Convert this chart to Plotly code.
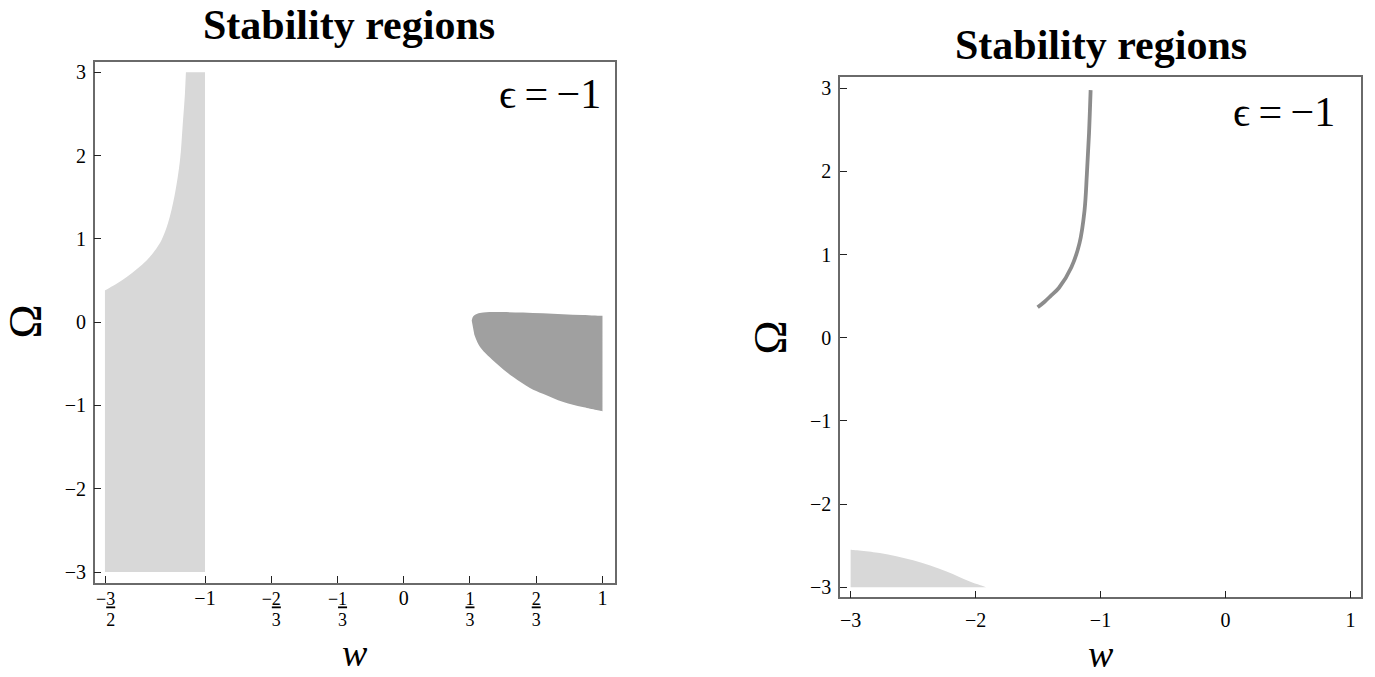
import plotly.graph_objects as go

# ---------------- data ----------------
# Left panel: light region; upper boundary curve (w, Omega), right edge at w=-1, bottom at Omega=-3
left_curve_w = [-1.5035, -1.445, -1.394, -1.341, -1.294, -1.255, -1.218, -1.186, -1.153, -1.126, -1.113, -1.101, -1.096]
left_curve_om = [0.38, 0.46, 0.54, 0.64, 0.74, 0.85, 0.99, 1.19, 1.52, 1.94, 2.34, 2.74, 3.00]
left_light_wmax = -1.0
om_min, om_max = -3.0, 3.0

# Left panel: dark region (upper edge then lower edge)
dark_upper_w = [0.342, 0.35, 0.37, 0.40, 0.50, 0.60, 0.70, 0.80, 0.90, 1.00]
dark_upper_om = [0.02, 0.07, 0.10, 0.115, 0.12, 0.115, 0.105, 0.095, 0.085, 0.075]
dark_lower_w = [1.00, 0.90, 0.803, 0.70, 0.635, 0.551, 0.468, 0.384, 0.355]
dark_lower_om = [-1.07, -1.02, -0.96, -0.86, -0.79, -0.66, -0.50, -0.30, -0.15]

# Right panel: thin dark band along a curve
band_w = [-1.503, -1.45, -1.40, -1.332, -1.234, -1.168, -1.128, -1.109, -1.092, -1.079]
band_om = [0.366, 0.43, 0.50, 0.60, 0.844, 1.137, 1.527, 1.966, 2.454, 2.976]

# Right panel: light region in lower-left corner
corner_w = [-3.0, -2.766, -2.5, -2.232, -2.046, -1.912]
corner_om = [-2.547, -2.587, -2.676, -2.81, -2.93, -3.0]

# Tick values / labels
left_xticks = [-1.5, -1.0, -2/3, -1/3, 0.0, 1/3, 2/3, 1.0]
left_xtick_frac = [("−", "3", "2"), None, ("−", "2", "3"), ("−", "1", "3"), None, ("", "1", "3"), ("", "2", "3"), None]
left_xtick_plain = ["", "−1", "", "", "0", "", "", "1"]
right_xticks = [-3, -2, -1, 0, 1]
right_xtick_text = ["−3", "−2", "−1", "0", "1"]
yticks = [-3, -2, -1, 0, 1, 2, 3]
ytick_text = ["−3", "−2", "−1", "0", "1", "2", "3"]

LIGHT = "#d8d8d8"
DARK = "#a0a0a0"
BAND = "#8c8c8c"
SERIF = "Liberation Serif, Times New Roman, serif"

W, H = 1375, 677


def px_x(p):
    return p / W


def px_y(p):
    return 1 - p / H


def frac_label(item, plain):
    if item is None:
        return f"<span style='font-size:20px'>{plain}</span>"
    sign, num, den = item
    hid = f"<span style='color:rgba(0,0,0,0)'>{sign}</span>" if sign else ""
    return (f"<span style='font-size:18px'>{sign}<u>{num}</u></span><br>"
            f"<span style='font-size:18px'>{hid}{den}</span>")


def sharp(ws, oms, corners):
    """Duplicate the listed point indices so a spline keeps sharp corners there."""
    xs, ys = [], []
    for i, (a, b) in enumerate(zip(ws, oms)):
        reps = 2 if i in corners else 1
        xs += [a] * reps
        ys += [b] * reps
    return xs, ys


left_xtext = [frac_label(a, b) for a, b in zip(left_xtick_frac, left_xtick_plain)]

fig = go.Figure()

# Left light region
lw = left_curve_w + [left_light_wmax, left_light_wmax, left_curve_w[0]]
lo = left_curve_om + [om_max, om_min, om_min]
n = len(left_curve_w)
lx, ly = sharp(lw, lo, {0, n - 1, n, n + 1, n + 2})
fig.add_trace(go.Scatter(x=lx, y=ly, fill="toself", fillcolor=LIGHT, mode="lines",
                         line=dict(width=0, color=LIGHT, shape="spline", smoothing=1, simplify=False),
                         xaxis="x", yaxis="y", hoverinfo="skip", showlegend=False))
# Left dark region
dw = dark_upper_w + dark_lower_w
do = dark_upper_om + dark_lower_om
m = len(dark_upper_w)
dx, dy = sharp(dw, do, {m - 1, m})
fig.add_trace(go.Scatter(x=dx, y=dy, fill="toself", fillcolor=DARK, mode="lines",
                         line=dict(width=0, color=DARK, shape="spline", smoothing=1, simplify=False),
                         xaxis="x", yaxis="y", hoverinfo="skip", showlegend=False))
# Right band
fig.add_trace(go.Scatter(x=band_w, y=band_om, mode="lines",
                         line=dict(width=3.8, color=BAND, shape="spline"),
                         xaxis="x2", yaxis="y2", hoverinfo="skip", showlegend=False))
# Right corner region
cw = corner_w + [corner_w[0]]
co = corner_om + [om_min]
k = len(corner_w)
cx, cy = sharp(cw, co, {0, k - 1, k})
fig.add_trace(go.Scatter(x=cx, y=cy, fill="toself", fillcolor=LIGHT, mode="lines",
                         line=dict(width=0, color=LIGHT, shape="spline", smoothing=1, simplify=False),
                         xaxis="x2", yaxis="y2", hoverinfo="skip", showlegend=False))

axis_common = dict(showline=True, linecolor="#6a6a6a", linewidth=1.5, mirror=True,
                   ticks="inside", ticklen=7, tickwidth=1, tickcolor="#222222",
                   showgrid=False, zeroline=False,
                   tickfont=dict(family=SERIF, size=20, color="black"))

fig.update_layout(
    width=W, height=H,
    margin=dict(l=0, r=0, t=0, b=0),
    paper_bgcolor="white", plot_bgcolor="white",
    xaxis=dict(domain=[px_x(94.7), px_x(615)], range=[-1.555, 1.063], anchor="y",
               tickvals=left_xticks, ticktext=left_xtext, ticklabelstandoff=2,
               **{**axis_common, "tickfont": dict(family=SERIF, size=16, color="black")}),
    yaxis=dict(domain=[px_y(582.5), px_y(61.7)], range=[-3.126, 3.126], anchor="x",
               tickvals=yticks, ticktext=ytick_text, ticklabelstandoff=3, **axis_common),
    xaxis2=dict(domain=[px_x(840), px_x(1361)], range=[-3.085, 1.085], anchor="y2",
                tickvals=right_xticks, ticktext=right_xtick_text, ticklabelstandoff=4, **axis_common),
    yaxis2=dict(domain=[px_y(597.3), px_y(77.3)], range=[-3.12, 3.13], anchor="x2",
                tickvals=yticks, ticktext=ytick_text, ticklabelstandoff=3, **axis_common),
)

ann = []
# Titles
ann.append(dict(text="<b>Stability regions</b>", x=px_x(349), y=1.0, xref="paper", yref="paper",
                xanchor="center", yanchor="top", showarrow=False,
                font=dict(family=SERIF, size=42, color="black")))
ann.append(dict(text="<b>Stability regions</b>", x=px_x(1100.5), y=px_y(45), xref="paper", yref="paper",
                xanchor="center", yanchor="middle", showarrow=False,
                font=dict(family=SERIF, size=42, color="black")))
# epsilon labels
eps = "ϵ\u2009=\u2009−1"
ann.append(dict(text=eps, x=px_x(603), y=px_y(94), xref="paper", yref="paper",
                xanchor="right", yanchor="middle", showarrow=False,
                font=dict(family=SERIF, size=42, color="black")))
ann.append(dict(text=eps, x=px_x(1337), y=px_y(112), xref="paper", yref="paper",
                xanchor="right", yanchor="middle", showarrow=False,
                font=dict(family=SERIF, size=42, color="black")))
# Axis titles
for (xc, yc) in [(25.8, 321.7), (770, 337.5)]:
    ann.append(dict(text="Ω", x=px_x(xc), y=px_y(yc), xref="paper", yref="paper",
                    xanchor="center", yanchor="middle", showarrow=False, textangle=-90,
                    font=dict(family=SERIF, size=46, color="black")))
for (xc, yc) in [(354.9, 653), (1100.5, 654)]:
    ann.append(dict(text="<i>w</i>", x=px_x(xc), y=px_y(yc), xref="paper", yref="paper",
                    xanchor="center", yanchor="middle", showarrow=False,
                    font=dict(family=SERIF, size=38, color="black")))
fig.update_layout(annotations=ann)

fig.write_html("out.html", config={"displayModeBar": False},
               post_script="document.body.style.margin='0px';document.body.style.overflow='hidden';")
